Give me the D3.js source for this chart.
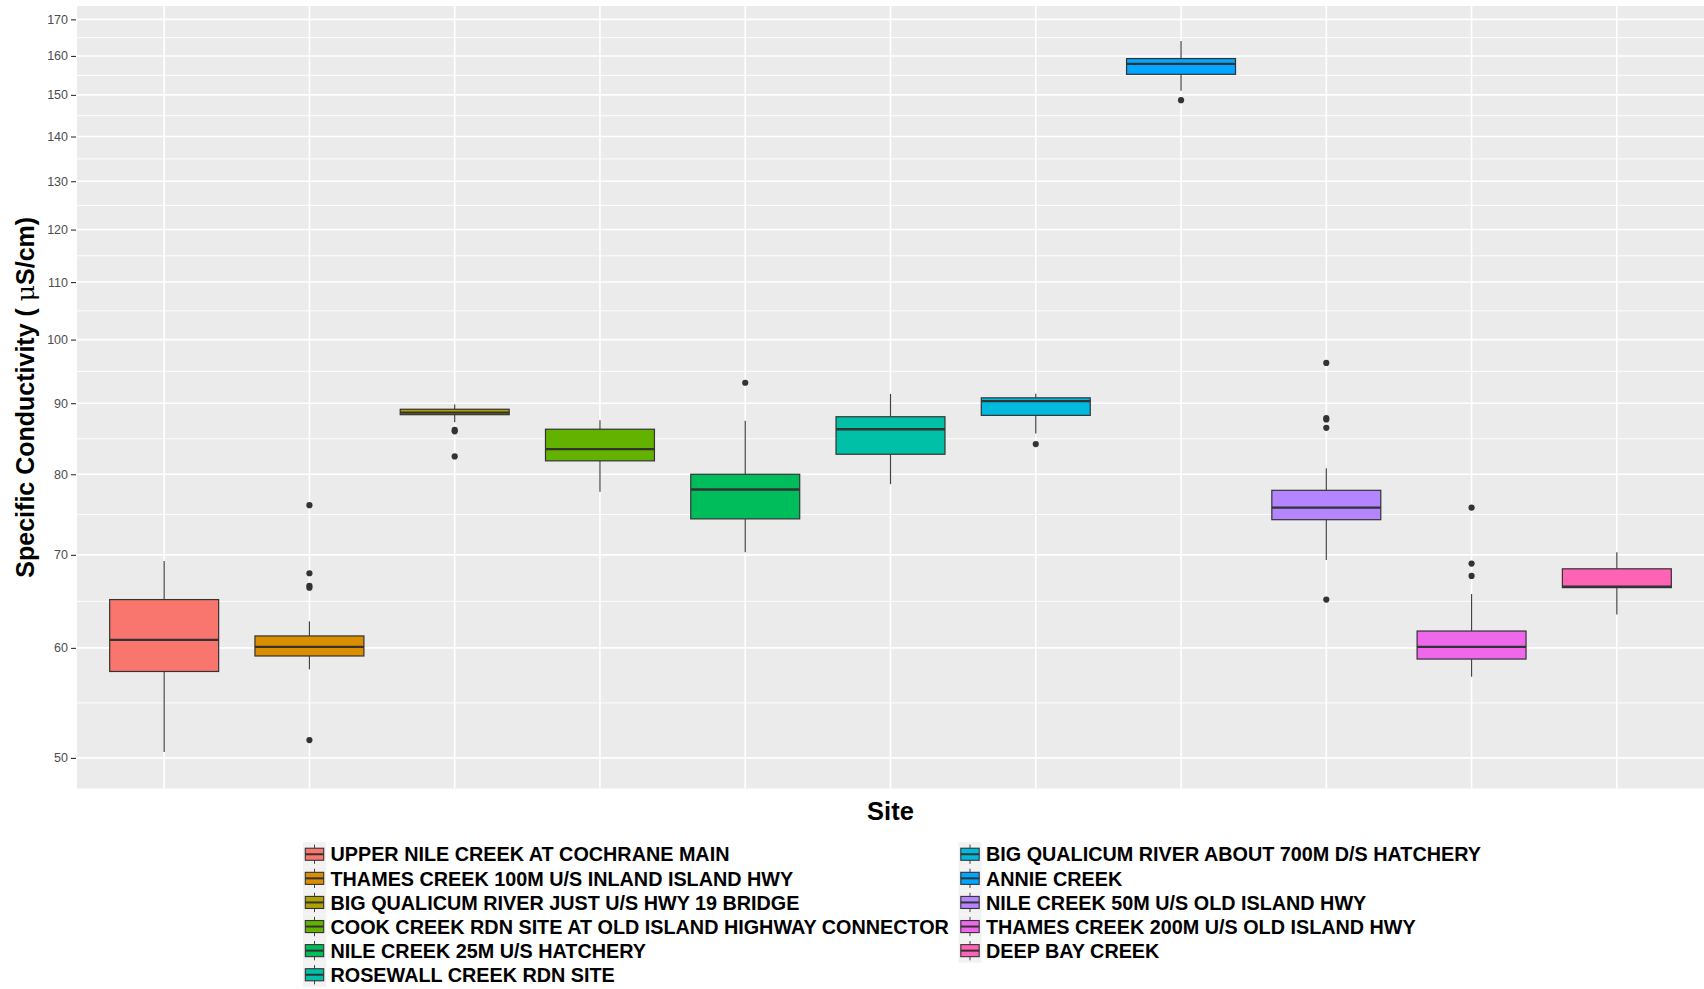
<!DOCTYPE html>
<html>
<head>
<meta charset="utf-8">
<script src="https://cdn.jsdelivr.net/npm/d3@7"></script>
<style>
  html, body { margin: 0; padding: 0; background: #ffffff; }
  svg { display: block; font-family: "Liberation Sans", Arial, sans-serif; }
</style>
</head>
<body>
<svg id="chart" width="1704" height="989"></svg>
<script>
// ---------------- DATA ----------------
const categories = [
  "UPPER NILE CREEK AT COCHRANE MAIN",
  "THAMES CREEK 100M U/S INLAND ISLAND HWY",
  "BIG QUALICUM RIVER JUST U/S HWY 19 BRIDGE",
  "COOK CREEK RDN SITE AT OLD ISLAND HIGHWAY CONNECTOR",
  "NILE CREEK 25M U/S HATCHERY",
  "ROSEWALL CREEK RDN SITE",
  "BIG QUALICUM RIVER ABOUT 700M D/S HATCHERY",
  "ANNIE CREEK",
  "NILE CREEK 50M U/S OLD ISLAND HWY",
  "THAMES CREEK 200M U/S OLD ISLAND HWY",
  "DEEP BAY CREEK"
];
const whiskerLow  = [50.5, 57.9, 87.2, 77.7, 70.3, 78.7, 85.6, 151.0, 69.4, 57.2, 63.4];
const q1          = [57.7, 59.2, 88.3, 81.8, 74.3, 82.7, 88.2, 155.2, 74.2, 58.9, 66.3];
const medians     = [60.8, 60.1, 88.6, 83.4, 78.0, 86.2, 90.3, 157.9, 75.7, 60.1, 66.4];
const q3          = [65.0, 61.2, 89.1, 86.2, 80.0, 88.0, 90.8, 159.3, 77.9, 61.7, 68.4];
const whiskerHigh = [69.3, 62.7, 89.8, 87.5, 87.4, 91.4, 91.4, 164.0, 80.8, 65.6, 70.3];
const outliers    = [
  [],
  [76.0, 67.9, 66.5, 66.3, 51.5],
  [86.1, 85.9, 82.4],
  [],
  [93.1],
  [],
  [84.1],
  [148.7],
  [96.2, 87.8, 87.6, 86.4, 65.0],
  [75.7, 69.0, 67.6],
  []
];
const colors = ["#F8766D", "#DB8E00", "#AEA200", "#64B200", "#00BD5C", "#00C1A7",
                "#00BADE", "#00A6FF", "#B385FF", "#EF67EB", "#FF63B6"];
const yTicks = [50, 60, 70, 80, 90, 100, 110, 120, 130, 140, 150, 160, 170];
const yDomain = [47.53, 173.8];
const xTitle = "Site";
const yTitle = "Specific Conductivity ( ";
const yTitleUnit = "\u03BCS/cm)";

// ---------------- LAYOUT ----------------
const svg = d3.select("#chart");
const panel = { left: 77, right: 1704, top: 6, bottom: 788.5 };

const x = d3.scalePoint().domain(categories).range([panel.left, panel.right]).padding(0.6);
const y = d3.scaleLog().domain(yDomain).range([panel.bottom, panel.top]);
const boxW = x.step() * 0.75;

// background
svg.append("rect")
  .attr("x", panel.left).attr("y", panel.top)
  .attr("width", panel.right - panel.left).attr("height", panel.bottom - panel.top)
  .attr("fill", "#EBEBEB");

// minor gridlines (geometric midpoints between major breaks)
const minor = d3.pairs(yTicks).map(([a, b]) => Math.sqrt(a * b));
svg.append("g").selectAll("line").data(minor).join("line")
  .attr("x1", panel.left).attr("x2", panel.right)
  .attr("y1", d => y(d)).attr("y2", d => y(d))
  .attr("stroke", "#ffffff").attr("stroke-width", 0.9);

// major gridlines
svg.append("g").selectAll("line").data(yTicks).join("line")
  .attr("x1", panel.left).attr("x2", panel.right)
  .attr("y1", d => y(d)).attr("y2", d => y(d))
  .attr("stroke", "#ffffff").attr("stroke-width", 1.6);
svg.append("g").selectAll("line").data(categories).join("line")
  .attr("x1", d => x(d)).attr("x2", d => x(d))
  .attr("y1", panel.top).attr("y2", panel.bottom)
  .attr("stroke", "#ffffff").attr("stroke-width", 1.6);

// y axis
const yAxis = d3.axisLeft(y).tickValues(yTicks).tickFormat(d3.format("d")).tickSize(5).tickPadding(3);
const gy = svg.append("g").attr("transform", `translate(${panel.left - 1},0)`).call(yAxis);
gy.select(".domain").remove();
gy.selectAll(".tick line").attr("stroke", "#333333").attr("stroke-width", 1.1);
gy.selectAll(".tick text").attr("fill", "#4D4D4D").style("font-size", "12.5px")
  .style("font-family", "'Liberation Sans', Arial, sans-serif");

// boxes
const boxes = svg.append("g").selectAll("g").data(categories).join("g");
boxes.append("line")
  .attr("x1", d => x(d)).attr("x2", d => x(d))
  .attr("y1", (d, i) => y(whiskerHigh[i])).attr("y2", (d, i) => y(q3[i]))
  .attr("stroke", "#444444").attr("stroke-width", 1.2);
boxes.append("line")
  .attr("x1", d => x(d)).attr("x2", d => x(d))
  .attr("y1", (d, i) => y(q1[i])).attr("y2", (d, i) => y(whiskerLow[i]))
  .attr("stroke", "#444444").attr("stroke-width", 1.2);
boxes.append("rect")
  .attr("x", d => x(d) - boxW / 2).attr("width", boxW)
  .attr("y", (d, i) => y(q3[i])).attr("height", (d, i) => y(q1[i]) - y(q3[i]))
  .attr("fill", (d, i) => colors[i])
  .attr("stroke", "#333333").attr("stroke-width", 1.2);
boxes.append("line")
  .attr("x1", d => x(d) - boxW / 2).attr("x2", d => x(d) + boxW / 2)
  .attr("y1", (d, i) => y(medians[i])).attr("y2", (d, i) => y(medians[i]))
  .attr("stroke", "#333333").attr("stroke-width", 2.4);
boxes.each(function(d, i) {
  d3.select(this).selectAll("circle").data(outliers[i]).join("circle")
    .attr("cx", x(d)).attr("cy", v => y(v)).attr("r", 3.1)
    .attr("fill", "#333333");
});

// axis titles
svg.append("text")
  .attr("x", (panel.left + panel.right) / 2).attr("y", 820)
  .attr("text-anchor", "middle")
  .style("font-size", "25.5px").style("font-weight", "bold")
  .text(xTitle);

const yt = svg.append("text")
  .attr("transform", `translate(34,${(panel.top + panel.bottom) / 2}) rotate(-90)`)
  .attr("text-anchor", "middle")
  .style("font-size", "25px").style("font-weight", "bold");
yt.append("tspan").text(yTitle);
yt.append("tspan").style("font-weight", "normal").style("font-family", "'DejaVu Serif', serif").text("\u03BC");
yt.append("tspan").text(yTitleUnit.slice(1));

// legend
const legend = svg.append("g");
const perCol = 6;
const colX = [303, 958.5];
const rowTop = 842.2, rowH = 24.1, keyW = 23;
categories.forEach((c, i) => {
  const col = Math.floor(i / perCol), row = i % perCol;
  const gx = colX[col], gyy = rowTop + row * rowH;
  const g = legend.append("g").attr("transform", `translate(${gx},${gyy})`);
  g.append("rect").attr("width", keyW).attr("height", rowH).attr("fill", "#F2F2F2");
  g.append("line").attr("x1", keyW / 2).attr("x2", keyW / 2).attr("y1", rowH * 0.1).attr("y2", rowH * 0.9)
    .attr("stroke", "#444444").attr("stroke-width", 1);
  g.append("rect").attr("x", keyW * 0.1).attr("width", keyW * 0.8)
    .attr("y", rowH * 0.25).attr("height", rowH * 0.5)
    .attr("fill", colors[i]).attr("stroke", "#333333").attr("stroke-width", 1.1);
  g.append("line").attr("x1", keyW * 0.1).attr("x2", keyW * 0.9).attr("y1", rowH * 0.5).attr("y2", rowH * 0.5)
    .attr("stroke", "#333333").attr("stroke-width", 2);
  g.append("text").attr("x", keyW + 4.5).attr("y", rowH / 2 + 7.2)
    .style("font-size", "19.8px").style("font-weight", "bold")
    .text(c);
});
</script>
</body>
</html>
